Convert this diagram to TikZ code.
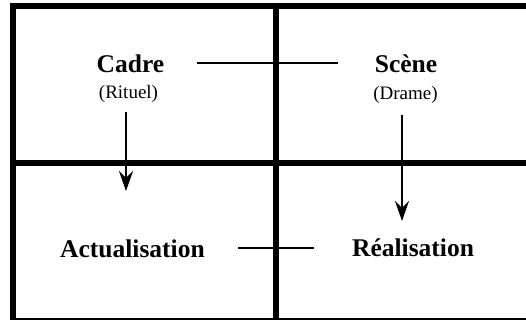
\documentclass[tikz,border=0pt]{standalone}
\usepackage{fontspec}
\setmainfont{Liberation Serif}
\usetikzlibrary{arrows.meta}
\begin{document}
\begin{tikzpicture}[x=1pt,y=-1pt,
  grid/.style={line width=6pt},
  thinrule/.style={line width=2pt},
  link/.style={line width=2pt},
  arr/.style={line width=2.4pt,-{Stealth[length=20pt,width=14pt,inset=7pt]}},
  bigtxt/.style={inner sep=0pt,anchor=base,font=\fontsize{25.5}{30}\selectfont\bfseries},
  subtxt/.style={inner sep=0pt,anchor=base,font=\fontsize{19}{23}\selectfont}]
\useasboundingbox (0,0) rectangle (526,322);
% frame and grid
\draw[grid] (13,3) -- (13,320);
\draw[grid] (10,6) -- (526,6);
\draw[grid] (10,162.5) -- (526,162.5);
\draw[grid] (276,3) -- (276,320);
\draw[thinrule] (10,319) -- (526,319);
% texts
\node[bigtxt] (cadre) at (130.5,72) {Cadre};
\node[subtxt] (rituel) at (128.5,98.5) {(Rituel)};
\node[bigtxt] (scene) at (406,72) {Scène};
\node[subtxt] (drame) at (405.5,99.5) {(Drame)};
\node[bigtxt] (actual) at (132.5,257) {Actualisation};
\node[bigtxt] (real) at (413,256) {Réalisation};
% connectors
\draw[link,shorten <=33pt,shorten >=37pt] (cadre.east) -- (cadre.east -| scene.west);
\draw[link,shorten <=33pt,shorten >=38pt] (actual.east) -- (actual.east -| real.west);
\coordinate (a1s) at (126,112);
\coordinate (a1e) at (126,191);
\coordinate (a2s) at (402,115);
\coordinate (a2e) at (402,221);
\draw[arr] (a1s) -- (a1e);
\draw[arr] (a2s) -- (a2e);
\end{tikzpicture}
\end{document}
